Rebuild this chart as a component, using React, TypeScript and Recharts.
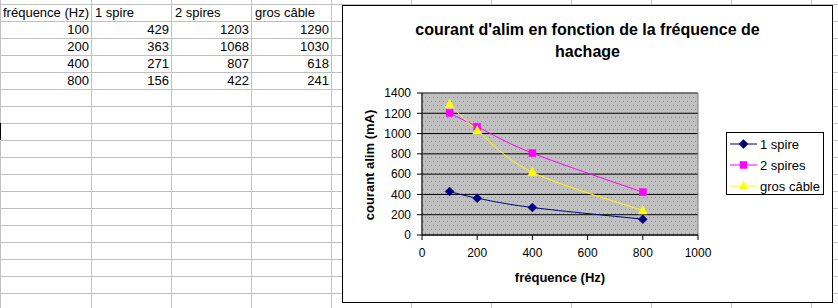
import React from 'react';
import { LineChart, Line, XAxis, YAxis, CartesianGrid, ReferenceArea } from 'recharts';

// ---- data ----
const frequencies = [100, 200, 400, 800];
const spire1 = [429, 363, 271, 156];
const spires2 = [1203, 1068, 807, 422];
const grosCable = [1290, 1030, 618, 241];
const seriesNames = ['1 spire', '2 spires', 'gros câble'];
const headerLabel = 'fréquence (Hz)';
const xTicks = [0, 200, 400, 600, 800, 1000];
const yTicks = [0, 200, 400, 600, 800, 1000, 1200, 1400];
const titleLines = ["courant d'alim en fonction de la fréquence de", 'hachage'];
const yTitle = 'courant alim (mA)';
const xTitle = 'fréquence (Hz)';

const FONT = '"Liberation Sans", Arial, sans-serif';

const data = frequencies.map((f, i) => ({ f, s1: spire1[i], s2: spires2[i], gc: grosCable[i] }));

const series = [
  { key: 's1', name: seriesNames[0], color: '#000080', shape: 'diamond' },
  { key: 's2', name: seriesNames[1], color: '#ff00ff', shape: 'square' },
  { key: 'gc', name: seriesNames[2], color: '#ffff00', shape: 'triangle' },
];

// Excel-like smoothed line (Catmull-Rom style Bezier), as a d3 curve factory
const excelCurve: any = (context: any) => {
  let pts: number[][] = [];
  return {
    areaStart() {},
    areaEnd() {},
    lineStart() { pts = []; },
    point(x: number, y: number) { pts.push([+x, +y]); },
    lineEnd() {
      if (!pts.length) return;
      context.moveTo(pts[0][0], pts[0][1]);
      for (let i = 0; i < pts.length - 1; i++) {
        const p0 = pts[i - 1] || pts[i];
        const p1 = pts[i];
        const p2 = pts[i + 1];
        const p3 = pts[i + 2] || pts[i + 1];
        context.bezierCurveTo(
          p1[0] + (p2[0] - p0[0]) / 6, p1[1] + (p2[1] - p0[1]) / 6,
          p2[0] - (p3[0] - p1[0]) / 6, p2[1] - (p3[1] - p1[1]) / 6,
          p2[0], p2[1]
        );
      }
    },
  };
};

function Marker({ cx, cy, shape, color }: any) {
  if (cx == null || cy == null) return null;
  if (shape === 'diamond') {
    const r = 4.5;
    return <path d={`M${cx},${cy - r}L${cx + r},${cy}L${cx},${cy + r}L${cx - r},${cy}Z`} fill={color} stroke={color} strokeWidth={0.5} />;
  }
  if (shape === 'square') {
    return <rect x={cx - 3.5} y={cy - 3.5} width={7} height={7} fill={color} stroke={color} strokeWidth={0.5} />;
  }
  return <path d={`M${cx},${cy - 5}L${cx + 4.5},${cy + 3.5}L${cx - 4.5},${cy + 3.5}Z`} fill={color} stroke={color} strokeWidth={0.5} />;
}

const makeDot = (shape: string, color: string) => (props: any) => (
  <Marker key={`${shape}-${props.index}`} cx={props.cx} cy={props.cy} shape={shape} color={color} />
);

function ChartLegend() {
  return (
    <div style={{ position: 'absolute', left: 726, top: 132, width: 98, height: 63, border: '1px solid #000', background: '#fff', boxSizing: 'border-box' }}>
      <svg width={96} height={61} style={{ display: 'block' }}>
        {series.map((s, i) => {
          const y = 11 + i * 21;
          return (
            <g key={s.key}>
              <line x1={3} x2={30} y1={y} y2={y} stroke={s.color} strokeWidth={1} />
              <Marker cx={16.5} cy={y} shape={s.shape} color={s.color} />
              <text x={33} y={y} dy="0.36em" fontSize={13} fontFamily={FONT} fill="#000">{s.name}</text>
            </g>
          );
        })}
      </svg>
    </div>
  );
}

const YTitle = (props: any) => {
  const vb = props.viewBox || { x: 342, y: 93, width: 80, height: 142 };
  const cx = vb.x + 27;
  const cy = vb.y + vb.height / 2 + 1;
  return (
    <text x={cx} y={cy} transform={`rotate(-90 ${cx} ${cy})`} textAnchor="middle" dy="0.36em"
      fontSize={13} fontWeight="bold" fontFamily={FONT} fill="#000">{yTitle}</text>
  );
};

// spreadsheet geometry
const colLines = [0, 91, 171, 251, 331, 411, 491, 571, 651, 731, 811];
const rowLines = Array.from({ length: 18 }, (_, k) => 4 + 17 * k);

function Sheet() {
  const rows: (string | number)[][] = [
    [headerLabel, ...seriesNames],
    ...frequencies.map((f, i) => [f, spire1[i], spires2[i], grosCable[i]]),
  ];
  return (
    <>
      <svg width={838} height={308} style={{ position: 'absolute', left: 0, top: 0 }}>
        {rowLines.map((y) => <rect key={'r' + y} x={0} y={y} width={838} height={1} fill="#c0c0c0" />)}
        {colLines.map((x) => <rect key={'c' + x} x={x} y={0} width={1} height={308} fill="#c0c0c0" />)}
        <rect x={0} y={123} width={1} height={17} fill="#000" />
      </svg>
      {rows.map((row, r) =>
        row.map((cell, c) => {
          const left = colLines[c] + 1;
          const width = colLines[c + 1] - colLines[c] - 1;
          const isNum = typeof cell === 'number';
          return (
            <div key={`${r}-${c}`} style={{
              position: 'absolute', left, top: rowLines[r] + 1, width, height: 16,
              lineHeight: '16px', fontSize: 13, fontFamily: FONT, color: '#000',
              textAlign: isNum ? 'right' : 'left', boxSizing: 'border-box',
              paddingLeft: c === 0 ? 2 : 3, paddingRight: 2, whiteSpace: 'nowrap', overflow: 'visible',
            }}>{cell}</div>
          );
        })
      )}
    </>
  );
}

export default function App() {
  return (
    <div style={{ position: 'absolute', left: 0, top: 0, width: 838, height: 308, background: '#fff', overflow: 'hidden' }}>
      <svg width={0} height={0} style={{ position: 'absolute' }}>
        <defs>
          <pattern id="xlDots" width={4} height={8} patternUnits="userSpaceOnUse">
            <rect width={4} height={8} fill="#c0c0c0" />
            <rect x={1} y={1} width={1} height={1} fill="#939393" />
            <rect x={3} y={5} width={1} height={1} fill="#939393" />
          </pattern>
        </defs>
      </svg>
      <Sheet />
      <div style={{ position: 'absolute', left: 342, top: 5, width: 491, height: 298, border: '1px solid #000', background: '#fff', boxSizing: 'border-box' }} />
      <div style={{ position: 'absolute', left: 342, top: 19, width: 491, textAlign: 'center', fontFamily: FONT, fontWeight: 'bold', fontSize: 16, lineHeight: '22px', color: '#000' }}>
        {titleLines[0]}<br />{titleLines[1]}
      </div>
      <div style={{ position: 'absolute', left: 0, top: 0 }}>
        <LineChart width={838} height={308} data={data} margin={{ top: 93, right: 140, bottom: 43, left: 342 }}>
          <CartesianGrid horizontal vertical={false} stroke="#000" fill="url(#xlDots)" fillOpacity={1} />
          <ReferenceArea x1={0} x2={1000} y1={0} y2={1400} fill="none" stroke="#808080" ifOverflow="visible" />
          <XAxis dataKey="f" type="number" domain={[0, 1000]} ticks={xTicks} height={30}
            tickSize={5} tickMargin={8} stroke="#000" axisLine={{ stroke: '#000' }} tickLine={{ stroke: '#000' }}
            tick={{ fill: '#000', fontSize: 12, fontFamily: FONT }}
            label={{ value: xTitle, position: 'bottom', offset: 8, style: { fontSize: 13, fontWeight: 'bold', fontFamily: FONT, fill: '#000' } }} />
          <YAxis type="number" domain={[0, 1400]} ticks={yTicks} width={80} interval={0}
            tickSize={5} tickMargin={6} stroke="#000" axisLine={{ stroke: '#000' }} tickLine={{ stroke: '#000' }}
            tick={{ fill: '#000', fontSize: 12, fontFamily: FONT }}
            label={{ content: (p: any) => <YTitle {...p} /> }} />
          {series.map((s) => (
            <Line key={s.key} dataKey={s.key} name={s.name} type={excelCurve} stroke={s.color} strokeWidth={1}
              dot={makeDot(s.shape, s.color)} activeDot={false} isAnimationActive={false} />
          ))}
        </LineChart>
      </div>
      <ChartLegend />
    </div>
  );
}
